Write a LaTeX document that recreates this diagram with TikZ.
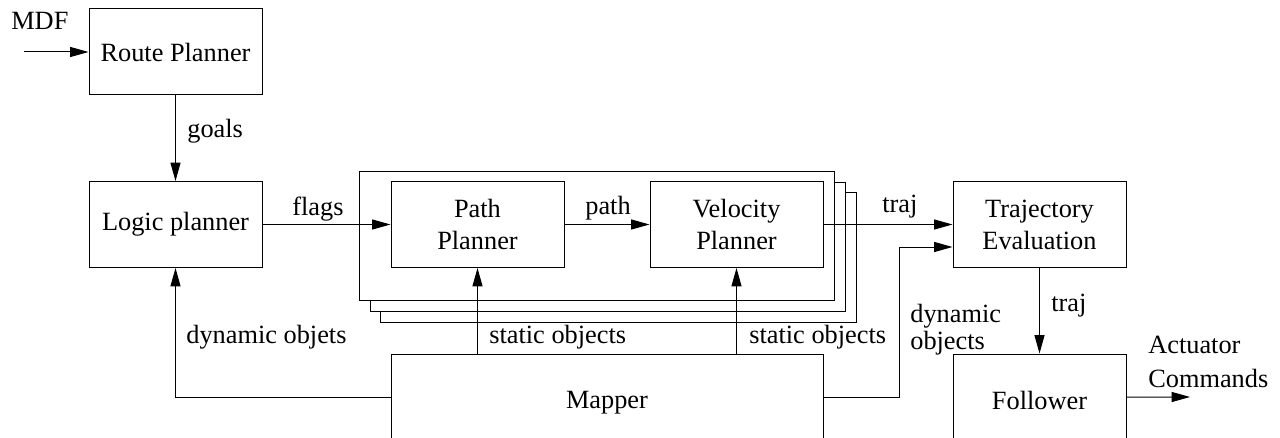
\documentclass[tikz,border=0pt]{standalone}
\usepackage{fontspec}
\setmainfont{Liberation Serif}
\usetikzlibrary{arrows.meta}
\begin{document}
\begin{tikzpicture}[x=0.6pt,y=-0.6pt,
  every node/.style={font=\fontsize{15.8}{19.2}\selectfont},
  block/.style 2 args={draw,line width=0.6pt,inner sep=0pt,
    minimum width={#1*0.6pt},minimum height={#2*0.6pt},align=center},
  link/.style={line width=0.6pt,-{Triangle[length=11pt,width=6pt]}},
  lbl/.style={anchor=base west,inner sep=0pt},
  sheet/.style={draw,fill=white,line width=0.6pt}]
\useasboundingbox (0,0) rectangle (1280,438);
\clip (0,0) rectangle (1280,438);

% planners
\node[block={173}{86}] (route) at (175.5,52) {Route Planner};
\node[block={173}{86}] (logic) at (175.5,224.5) {Logic planner};

% stacked sheets behind the path / velocity planners
\draw[sheet] (380,192) rectangle (856,322);
\draw[sheet] (370,182) rectangle (845,311);
\draw[sheet] (359,171) rectangle (834,300);

\node[block={173}{86}] (path) at (477.5,224.5) {Path\\Planner};
\node[block={173}{86}] (vel) at (736.5,224.5) {Velocity\\Planner};
\node[block={173}{86}] (traj) at (1039.5,224.5) {Trajectory\\Evaluation};

% bottom row (runs off the lower edge)
\node[block={432}{92},text depth=0pt] (mapper) at (607,400) {Mapper};
\node[block={173}{92},text depth=0pt] (follow) at (1039.5,400) {Follower};

% inputs from above
\coordinate (mdf) at (24,52);
\draw[link] (mdf) -- (route);
\node[lbl] at (11,30) {MDF};

\draw[link] (route) -- (logic);
\node[lbl] at (187,137) {goals};

\draw[link] (logic) -- (path);
\node[lbl] at (292,215) {flags};

\draw[link] (path) -- (vel);
\node[lbl] at (585,214) {path};

\draw[link] (vel) -- (traj);
\node[lbl] at (882,213) {traj};

% mapper outputs
\draw[link] (mapper.north -| path) -- (path);
\node[lbl] at (489,343) {static objects};
\draw[link] (mapper.north -| vel) -- (vel);
\node[lbl] at (749,343) {static objects};

\draw[link] ([yshift=1.8pt]mapper.west) -| (logic);
\node[lbl] at (186,343) {dynamic objets};

\coordinate (bend) at (899,247);
\draw[link] ([yshift=1.8pt]mapper.east) -| (bend) -- (bend -| traj.west);
\node[lbl] at (910,322) {dynamic};
\node[lbl] at (910,349) {objects};

% follower
\draw[link] (traj) -- (follow);
\node[lbl] at (1051,311) {traj};

\coordinate (act) at (1190,397);
\draw[link] ([yshift=1.8pt]follow.east) -- (act);
\node[lbl] at (1148,353) {Actuator};
\node[lbl] at (1148,387) {Commands};
\end{tikzpicture}
\end{document}
